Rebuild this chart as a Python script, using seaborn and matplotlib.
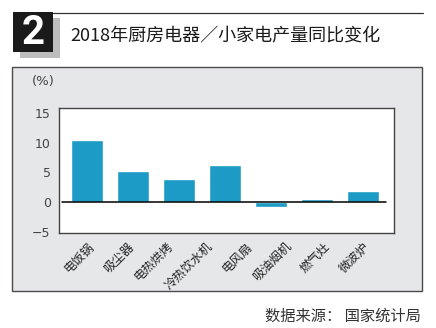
import matplotlib
matplotlib.use("Agg")
import matplotlib.pyplot as plt
from matplotlib.patches import Rectangle
from matplotlib.lines import Line2D
import numpy as np
import pandas as pd
import seaborn as sns

# Category labels along the x axis
categories = ["电饭锅", "吸尘器", "电热烘烤", "冷热饮水机", "电风扇", "吸油烟机", "燃气灶", "微波炉"]
# Year-on-year change of output (%), one value per drawn bar
bar_values = [10.5, 5.2, 3.9, 6.2, -0.8, 0.5, 1.8]
y_ticks = [-5, 0, 5, 10, 15]

title = "2018年厨房电器／小家电产量同比变化"
source = "数据来源： 国家统计局"

sns.set_theme(style="white")
plt.rcParams["font.family"] = ["Noto Sans CJK SC", "DejaVu Sans"]

W, H = 436, 328
fig = plt.figure(figsize=(W / 100, H / 100), dpi=100)
fig.patch.set_facecolor("white")

def fx(px):
    return px / W

def fy(py):
    return 1 - py / H

# grey panel behind the chart
fig.patches.append(Rectangle((fx(12), fy(291)), fx(410), 224 / H, transform=fig.transFigure,
                             facecolor="#e6e7e8", edgecolor="#4a4a4a", linewidth=1.0, zorder=-5))

# header: numbered badge with shadow, rule and title
fig.patches.append(Rectangle((fx(20), fy(58)), fx(40), 40 / H, transform=fig.transFigure,
                             facecolor="#bdbdbd", edgecolor="none", zorder=-4))
fig.patches.append(Rectangle((fx(13), fy(52)), fx(40), 40 / H, transform=fig.transFigure,
                             facecolor="#1a1a1a", edgecolor="none", zorder=-3))
fig.lines.append(Line2D([fx(53), fx(423)], [fy(12.5), fy(12.5)], transform=fig.transFigure,
                        color="#333333", linewidth=0.9))
fig.text(fx(33.5), fy(32.5), "2", color="white", fontsize=29, fontweight="bold",
         family=["Roboto", "DejaVu Sans"], ha="center", va="center", zorder=3)
fig.text(fx(70), fy(35), title, fontsize=13, fontweight="medium", color="#1a1a1a",
         ha="left", va="center")

ax = fig.add_axes([fx(59), fy(233), fx(335), 125 / H])
ax.set_facecolor("white")

df = pd.DataFrame({"slot": list(range(len(bar_values))), "value": bar_values})
sns.barplot(data=df, x="slot", y="value", color="#1b9bc5", width=0.7, saturation=1,
            ax=ax, zorder=2)

ax.axhline(0, xmin=(-0.54 + 0.61) / 7.28, xmax=(6.5 + 0.61) / 7.28, color="black",
           linewidth=1.1, zorder=3)
ax.set_xlim(-0.61, 6.67)
ax.set_ylim(-5.23, 15.85)
ax.set_yticks(y_ticks)
ax.set_yticklabels([str(v) if v >= 0 else "−" + str(-v) for v in y_ticks],
                   fontsize=9, color="#444444", family=["DejaVu Sans"])

tick_pos = 0.22 + np.arange(len(categories)) * (5.98 / 7)
ax.set_xticks(tick_pos)
ax.set_xticklabels(categories, rotation=45, ha="right", fontsize=8.8, color="#222222")
ax.tick_params(axis="x", length=0, pad=5)
ax.tick_params(axis="y", length=0, pad=6)
ax.set_xlabel("")
ax.set_ylabel("")
for s in ax.spines.values():
    s.set_visible(True)
    s.set_color("#444444")
    s.set_linewidth(1.0)

fig.text(fx(32), fy(82), "(%)", fontsize=9.5, color="#444444", ha="left", va="center",
         family=["DejaVu Sans"])

fig.text(fx(421), fy(316), source, fontsize=11, color="#333333", ha="right", va="center")

fig.savefig("out.png", dpi=100, facecolor="white")
